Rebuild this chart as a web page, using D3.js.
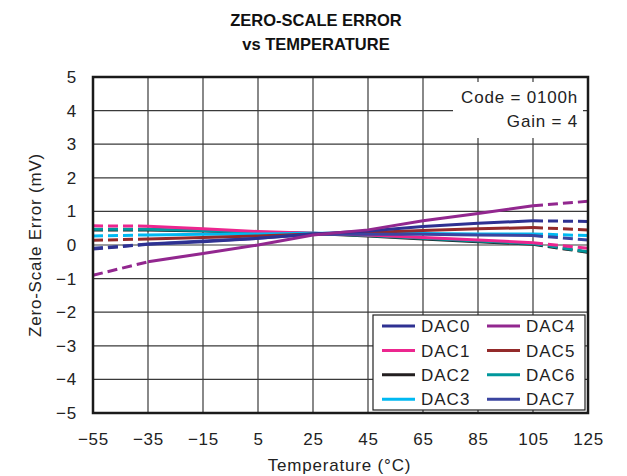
<!DOCTYPE html>
<html>
<head>
<meta charset="utf-8">
<script src="https://cdn.jsdelivr.net/npm/d3@7"></script>
<style>
  html, body { margin: 0; padding: 0; background: #fff; }
  svg { display: block; font-family: "Liberation Sans", Arial, Helvetica, sans-serif; }
  .lbl { font-size: 17px; letter-spacing: 0.8px; fill: #222; }
</style>
</head>
<body>
<svg id="chart" width="627" height="476"></svg>
<script>
const temperatures = [-55, -35, -15, 5, 25, 45, 65, 85, 105, 125];
const xTicks = [-55, -35, -15, 5, 25, 45, 65, 85, 105, 125];
const yTicks = [-5, -4, -3, -2, -1, 0, 1, 2, 3, 4, 5];

const dac0 = [-0.12, 0.02, 0.10, 0.20, 0.33, 0.42, 0.55, 0.65, 0.72, 0.70];
const dac1 = [0.57, 0.56, 0.48, 0.40, 0.35, 0.30, 0.22, 0.15, 0.07, -0.10];
const dac2 = [0.45, 0.45, 0.42, 0.37, 0.34, 0.27, 0.18, 0.10, 0.02, -0.22];
const dac3 = [0.27, 0.30, 0.32, 0.33, 0.35, 0.34, 0.34, 0.33, 0.33, 0.28];
const dac4 = [-0.90, -0.50, -0.25, 0.00, 0.30, 0.45, 0.72, 0.94, 1.17, 1.30];
const dac5 = [0.14, 0.18, 0.22, 0.27, 0.33, 0.37, 0.43, 0.48, 0.52, 0.45];
const dac6 = [0.47, 0.47, 0.43, 0.38, 0.35, 0.28, 0.20, 0.12, 0.04, -0.20];
const dac7 = [-0.10, 0.03, 0.12, 0.20, 0.32, 0.32, 0.32, 0.30, 0.28, 0.15];

const seriesNames = ["DAC0", "DAC1", "DAC2", "DAC3", "DAC4", "DAC5", "DAC6", "DAC7"];
const seriesValues = [dac0, dac1, dac2, dac3, dac4, dac5, dac6, dac7];
const seriesColors = ["#2e3192", "#ec268f", "#231f20", "#00b9f2", "#92278f", "#932a2a", "#00979c", "#3a45a0"];
const drawOrder = [2, 6, 1, 3, 5, 7, 0, 4];

const svg = d3.select("#chart");
const m = { left: 93, top: 77, width: 495, height: 336 };

const x = d3.scaleLinear().domain([-55, 125]).range([m.left, m.left + m.width]);
const y = d3.scaleLinear().domain([-5, 5]).range([m.top + m.height, m.top]);

// Title
svg.append("text").attr("x", 316).attr("y", 26).attr("text-anchor", "middle")
  .attr("font-weight", "bold").attr("font-size", 16.5).attr("fill", "#111").text("ZERO-SCALE ERROR");
svg.append("text").attr("x", 316).attr("y", 50).attr("text-anchor", "middle")
  .attr("font-weight", "bold").attr("font-size", 16.5).attr("fill", "#111").text("vs TEMPERATURE");

// Grid
const grid = svg.append("g").attr("stroke", "#3a3a3a").attr("stroke-width", 1.2);
grid.selectAll("line.v").data(xTicks.slice(1, -1)).enter().append("line")
  .attr("x1", d => x(d)).attr("x2", d => x(d))
  .attr("y1", m.top).attr("y2", m.top + m.height);
grid.selectAll("line.h").data(yTicks.slice(1, -1)).enter().append("line")
  .attr("x1", m.left).attr("x2", m.left + m.width)
  .attr("y1", d => y(d)).attr("y2", d => y(d));

// Axes (labels only)
const fmt = d => String(d).replace("-", "\u2212");
const xAxis = d3.axisBottom(x).tickValues(xTicks).tickSize(0).tickPadding(0).tickFormat(fmt);
const gx = svg.append("g").attr("transform", `translate(0,${m.top + m.height + 20})`).call(xAxis);
gx.select(".domain").remove();
gx.selectAll("text").attr("class", "lbl").attr("font-size", null).attr("fill", null)
  .attr("dy", "0.71em").style("font-family", "Liberation Sans, Arial, sans-serif");

const yAxis = d3.axisLeft(y).tickValues(yTicks).tickSize(0).tickPadding(0).tickFormat(fmt);
const gy = svg.append("g").attr("transform", `translate(${m.left - 16},0)`).call(yAxis);
gy.select(".domain").remove();
gy.selectAll("text").attr("class", "lbl").attr("font-size", null).attr("fill", null)
  .style("font-family", "Liberation Sans, Arial, sans-serif");

svg.append("text").attr("class", "lbl").attr("x", m.left + m.width / 2 - 1).attr("y", 471)
  .attr("text-anchor", "middle").text("Temperature (\u00b0C)");
svg.append("text").attr("class", "lbl").attr("transform", `translate(41,${m.top + m.height / 2}) rotate(-90)`)
  .attr("text-anchor", "middle").text("Zero-Scale Error (mV)");

// Lines
const line = d3.line().x(d => x(d[0])).y(d => y(d[1]));
const plot = svg.append("g");
drawOrder.forEach(i => {
  const pts = temperatures.map((t, k) => [t, seriesValues[i][k]]);
  const segs = [
    { p: pts.slice(0, 2), dash: "10,5" },
    { p: pts.slice(1, 9), dash: null },
    { p: pts.slice(8, 10), dash: "10,5" }
  ];
  segs.forEach(s => {
    plot.append("path").attr("d", line(s.p)).attr("fill", "none")
      .attr("stroke", seriesColors[i]).attr("stroke-width", 3)
      .attr("stroke-dasharray", s.dash);
  });
});

// Annotation box
svg.append("rect").attr("x", 453).attr("y", 82).attr("width", 130).attr("height", 56).attr("fill", "#fff");
svg.append("text").attr("class", "lbl").attr("x", 578).attr("y", 103).attr("text-anchor", "end").text("Code = 0100h");
svg.append("text").attr("class", "lbl").attr("x", 578).attr("y", 127).attr("text-anchor", "end").text("Gain = 4");

// Legend
const lg = svg.append("g");
lg.append("rect").attr("x", 373).attr("y", 315).attr("width", 212).attr("height", 95)
  .attr("fill", "#fff").attr("stroke", "#222").attr("stroke-width", 1.2);
seriesNames.forEach((name, i) => {
  const col = Math.floor(i / 4), row = i % 4;
  const lx = 382 + col * 105, ly = 326 + row * 24.4;
  lg.append("line").attr("x1", lx).attr("x2", lx + 33).attr("y1", ly).attr("y2", ly)
    .attr("stroke", seriesColors[i]).attr("stroke-width", 3);
  lg.append("text").attr("class", "lbl").attr("x", lx + 39).attr("y", ly).attr("dy", "0.36em")
    .style("letter-spacing", "1px").text(name);
});

// Frame
svg.append("rect").attr("x", m.left).attr("y", m.top).attr("width", m.width).attr("height", m.height)
  .attr("fill", "none").attr("stroke", "#1a1a1a").attr("stroke-width", 2.5);
</script>
</body>
</html>
